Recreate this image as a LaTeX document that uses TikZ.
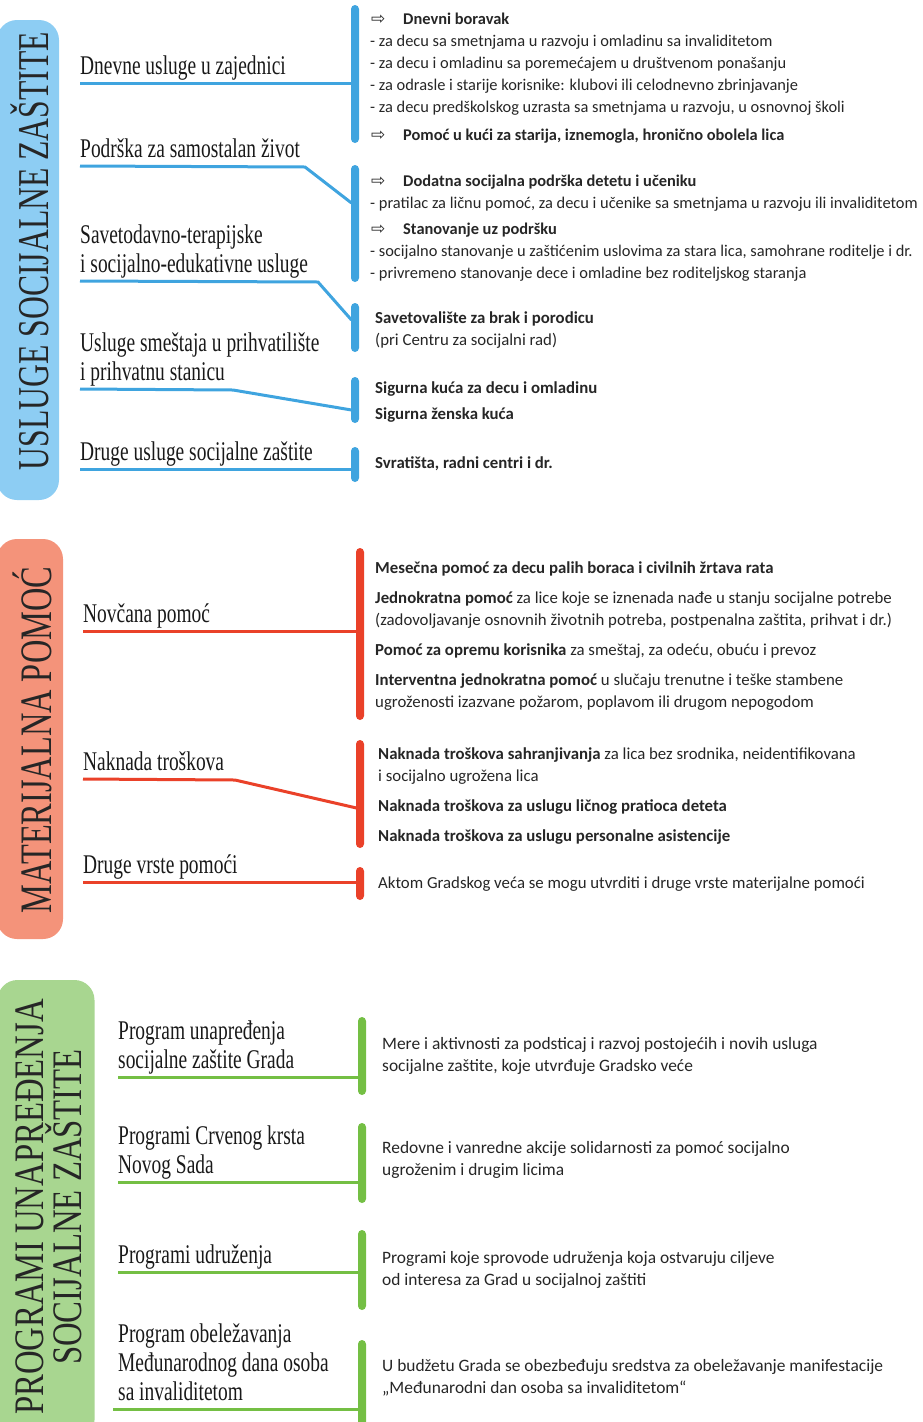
\documentclass[tikz,border=0pt]{standalone}
\usepackage{fontspec}
\setmainfont{Carlito}
\newfontfamily\labelfont[FakeStretch=0.72]{Liberation Serif}
\newfontfamily\widefont[FakeStretch=0.78]{Liberation Serif}
\newfontfamily\symfont{DejaVu Sans}
\usetikzlibrary{positioning}

\definecolor{uslblue}{HTML}{3FA4DF}
\definecolor{uslbluefill}{HTML}{8DCDF3}
\definecolor{matred}{HTML}{EA4129}
\definecolor{matredfill}{HTML}{F4937A}
\definecolor{progreen}{HTML}{74BF44}
\definecolor{progreenfill}{HTML}{A8D690}

\tikzstyle{okvir} = [rotate=90, rounded corners=20pt, inner sep=0pt]
\tikzstyle{naslov} = [rotate=90, inner sep=0pt, align=center, text=black!85, font=\labelfont\fontsize{44}{36}\selectfont]
\tikzstyle{grana} = [anchor=south west, inner sep=0pt, align=left, text=black!90, font=\labelfont\fontsize{27}{29}\selectfont]
\tikzstyle{traka} = [rectangle, rounded corners=4pt, minimum width=8pt, inner sep=0pt]
\tikzstyle{veza} = [line width=3pt]
\tikzstyle{opis} = [anchor=north west, inner sep=0pt, align=left, text=black!85, execute at begin node=\strut, font=\fontsize{16.8}{22}\selectfont]
\tikzstyle{opisuzi} = [opis, font=\fontsize{16.4}{22}\selectfont]
\tikzstyle{opisiri} = [opis, font=\fontsize{17.4}{22}\selectfont]

\newcommand{\strela}{\makebox[33pt][l]{\hspace{1pt}{\symfont\fontsize{17}{17}\selectfont ⇨}}}

\begin{document}
\begin{tikzpicture}[x=1pt, y=-1pt]
\useasboundingbox (0,0) rectangle (922,1422);

% naslovi
\node (o1) [okvir, fill=uslbluefill, minimum width=480pt, minimum height=62pt] at (28,260) {};
\node (n1) [naslov] at (30,251) {USLUGE SOCIJALNE ZAŠTITE};
\node (o2) [okvir, fill=matredfill, minimum width=400pt, minimum height=66pt] at (30,739) {};
\node (n2) [naslov, font=\labelfont\fontsize{45}{36}\selectfont] at (32,740) {MATERIJALNA POMOĆ};
\node (o3) [okvir, fill=progreenfill, minimum width=460pt, minimum height=97pt] at (46,1210) {};
\node (n3) [naslov, font=\widefont\fontsize{42}{36}\selectfont] at (49,1207) {PROGRAMI UNAPREĐENJA\\SOCIJALNE ZAŠTITE};

% usluge socijalne zastite
\node (l11) [grana] at (80,83) {Dnevne usluge u zajednici\strut};
\node (l12) [grana] at (80,166) {Podrška za samostalan život\strut};
\node (l13) [grana] at (80,281) {Savetodavno-terapijske\\i socijalno-edukativne usluge\strut};
\node (l14) [grana] at (80,389) {Usluge smeštaja u prihvatilište\\i prihvatnu stanicu\strut};
\node (l15) [grana] at (80,469) {Druge usluge socijalne zaštite\strut};

\node (b11) [traka, fill=uslblue, minimum height=138pt] at (355,74) {};
\node (b12) [traka, fill=uslblue, minimum height=117pt] at (355,223.5) {};
\node (b13) [traka, fill=uslblue, minimum height=49pt] at (355,327.5) {};
\node (b14) [traka, fill=uslblue, minimum height=46pt] at (355,400) {};
\node (b15) [traka, fill=uslblue, minimum height=35pt] at (355,464.5) {};

\coordinate (k12) at (305,167);
\coordinate (k13) at (318,282);
\coordinate (k14) at (233,390);
\coordinate (u12) at (351.5,203);
\coordinate (u13) at (351.5,320);
\coordinate (u14) at (351.5,410);

\draw [veza, uslblue] (l11.south west) -- (l11.south west -| b11.west);
\draw [veza, uslblue] (l12.south west) -- (k12) -- (u12);
\draw [veza, uslblue] (l13.south west) -- (k13) -- (u13);
\draw [veza, uslblue] (l14.south west) -- (k14) -- (u14);
\draw [veza, uslblue] (l15.south west) -- (l15.south west -| b15.west);

\node (t11) [opisuzi] at (370,12.6) {\strela\textbf{Dnevni boravak}\\
- za decu sa smetnjama u razvoju i omladinu sa invaliditetom\\
- za decu i omladinu sa poremećajem u društvenom ponašanju\\
- za odrasle i starije korisnike: klubovi ili celodnevno zbrinjavanje\\
- za decu predškolskog uzrasta sa smetnjama u razvoju, u osnovnoj školi\\[6pt]
\strela\textbf{Pomoć u kući za starija, iznemogla, hronično obolela lica}};
\node (t12) [opisuzi] at (370,174.6) {\strela\textbf{Dodatna socijalna podrška detetu i učeniku}\\
- pratilac za ličnu pomoć, za decu i učenike sa smetnjama u razvoju ili invaliditetom\\[4pt]
\strela\textbf{Stanovanje uz podršku}\\
- socijalno stanovanje u zaštićenim uslovima za stara lica, samohrane roditelje i dr.\\
- privremeno stanovanje dece i omladine bez roditeljskog staranja};
\node (t13) [opis] at (375,311.6) {\textbf{Savetovalište za brak i porodicu}\\
(pri Centru za socijalni rad)};
\node (t14) [opis] at (375,381.6) {\textbf{Sigurna kuća za decu i omladinu}\\[4pt]
\textbf{Sigurna ženska kuća}};
\node (t15) [opis] at (375,452.6) {\textbf{Svratišta, radni centri i dr.}};

% materijalna pomoc
\node (l21) [grana] at (83,631) {Novčana pomoć\strut};
\node (l22) [grana] at (83,779) {Naknada troškova\strut};
\node (l23) [grana] at (83,882) {Druge vrste pomoći\strut};

\node (b21) [traka, fill=matred, minimum height=172pt] at (360,634) {};
\node (b22) [traka, fill=matred, minimum height=108pt] at (360,794) {};
\node (b23) [traka, fill=matred, minimum height=33pt] at (360,883.5) {};

\coordinate (k22) at (235,780);
\coordinate (u22) at (356.5,808);

\draw [veza, matred] (l21.south west) -- (l21.south west -| b21.west);
\draw [veza, matred] (l22.south west) -- (k22) -- (u22);
\draw [veza, matred] (l23.south west) -- (l23.south west -| b23.west);

\node (t21) [opis] at (375,561.6) {\textbf{Mesečna pomoć za decu palih boraca i civilnih žrtava rata}\\[8pt]
\textbf{Jednokratna pomoć} za lice koje se iznenada nađe u stanju socijalne potrebe\\
(zadovoljavanje osnovnih životnih potreba, postpenalna zaštita, prihvat i dr.)\\[8pt]
\textbf{Pomoć za opremu korisnika} za smeštaj, za odeću, obuću i prevoz\\[8pt]
\textbf{Interventna jednokratna pomoć} u slučaju trenutne i teške stambene\\
ugroženosti izazvane požarom, poplavom ili drugom nepogodom};
\node (t22) [opis] at (378,747.6) {\textbf{Naknada troškova sahranjivanja} za lica bez srodnika, neidentifikovana\\
i socijalno ugrožena lica\\[8pt]
\textbf{Naknada troškova za uslugu ličnog pratioca deteta}\\[8pt]
\textbf{Naknada troškova za uslugu personalne asistencije}};
\node (t23) [opis] at (378,872.6) {Aktom Gradskog veća se mogu utvrditi i druge vrste materijalne pomoći};

% programi unapredjenja
\node (l31) [grana] at (118,1077) {Program unapređenja\\socijalne zaštite Grada\strut};
\node (l32) [grana] at (118,1182) {Programi Crvenog krsta\\Novog Sada\strut};
\node (l33) [grana] at (118,1272) {Programi udruženja\strut};
\node (l34) [grana] at (118,1409) {Program obeležavanja\\Međunarodnog dana osoba\\sa invaliditetom\strut};

\node (b31) [traka, fill=progreen, minimum height=78pt] at (362,1056) {};
\node (b32) [traka, fill=progreen, minimum height=80pt] at (362,1163) {};
\node (b33) [traka, fill=progreen, minimum height=80pt] at (362,1270) {};
\node (b34) [traka, fill=progreen, minimum height=110pt] at (362,1395) {};

\draw [veza, progreen] (l31.south west) -- (l31.south west -| b31.west);
\draw [veza, progreen] (l32.south west) -- (l32.south west -| b32.west);
\draw [veza, progreen] (l33.south west) -- (l33.south west -| b33.west);
\draw [veza, progreen] ([xshift=-5pt]l34.south west) -- (l34.south west -| b34.west);

\node (t31) [opisiri] at (382,1037.6) {Mere i aktivnosti za podsticaj i razvoj postojećih i novih usluga\\
socijalne zaštite, koje utvrđuje Gradsko veće};
\node (t32) [opisiri] at (382,1141.6) {Redovne i vanredne akcije solidarnosti za pomoć socijalno\\
ugroženim i drugim licima};
\node (t33) [opisiri] at (382,1251.6) {Programi koje sprovode udruženja koja ostvaruju ciljeve\\
od interesa za Grad u socijalnoj zaštiti};
\node (t34) [opisiri] at (382,1359.6) {U budžetu Grada se obezbeđuju sredstva za obeležavanje manifestacije\\
„Međunarodni dan osoba sa invaliditetom“};

\end{tikzpicture}
\end{document}
